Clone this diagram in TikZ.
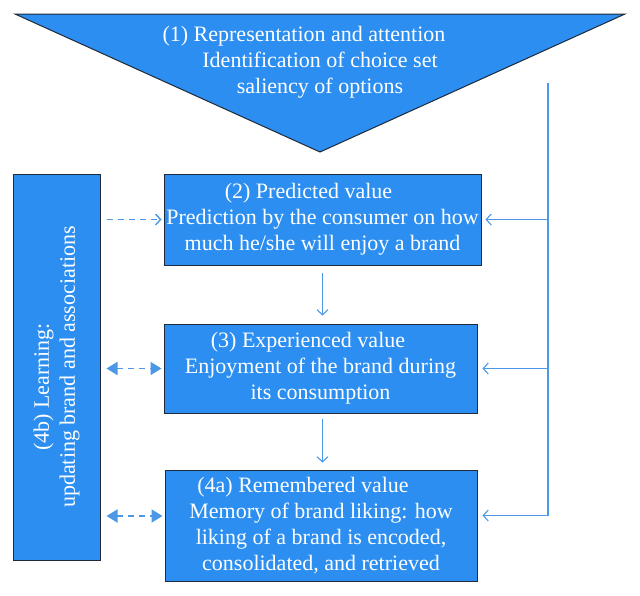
\documentclass[tikz,border=0pt]{standalone}
\usepackage{fontspec}
\setmainfont{Liberation Serif}
\usetikzlibrary{arrows.meta}
\definecolor{boxblue}{HTML}{2B8EF0}
\definecolor{edgenavy}{HTML}{1F2A3A}
\definecolor{linkblue}{HTML}{4A98E6}
\tikzset{stage/.style={draw=edgenavy,line width=1pt,fill=boxblue,text=white,align=center,inner sep=2pt,font=\fontsize{22}{26}\selectfont},
         label/.style={text=white,align=center,inner sep=0pt,font=\fontsize{22}{26}\selectfont},
         link/.style={draw=linkblue,line width=1.1pt,-{Straight Barb[length=5pt,width=11pt]}},
         feedback/.style={draw=linkblue,line width=1.4pt,dash pattern=on 6pt off 5pt,shorten <=6pt,shorten >=2pt},
         twoway/.style={feedback,line width=1.8pt,{Triangle[length=11pt,width=13pt]}-{Triangle[length=11pt,width=13pt]}}}

\begin{document}
\begin{tikzpicture}[x=1pt,y=-1pt]
        \useasboundingbox (0,0) rectangle (640,595);
        \draw[draw=edgenavy,line width=1pt,fill=boxblue] (15,14) -- (625,14) -- (320,152) -- cycle;
        \node[label] (attn) at (320,62) {(1) Representation and attention\hspace*{32pt}\\Identification of choice set\\saliency of options};
        \node[stage,minimum width=317pt,minimum height=91pt] (pred) at (322.5,219.5) {(2) Predicted value\hspace*{28pt}\\Prediction by the consumer on how\\much he/she will enjoy a brand};
        \node[stage,minimum width=313pt,minimum height=89pt] (exper) at (320.5,368.5) {(3) Experienced value\hspace*{25pt}\\Enjoyment of the brand during\\its consumption};
        \node[stage,minimum width=312pt,minimum height=111pt] (remem) at (321,525.5) {(4a) Remembered value\hspace*{36pt}\\Memory of brand liking: how\\liking of a brand is encoded,\\consolidated, and retrieved};
        \node[stage,minimum width=87pt,minimum height=386pt] (learn) at (56.5,367) {};
        \node[label,rotate=90] (learntxt) at (learn.center) {(4b) Learning:\hspace*{40pt}\\updating brand and associations};
        \coordinate (feed) at (548,83);
        \coordinate (remin) at ([yshift=9.5pt]remem.west);
        \coordinate (remright) at ([yshift=10pt]remem.east);
        \draw[link,shorten <=7pt,shorten >=8pt] (pred.south) -- (pred.south |- exper.north);
        \draw[link,shorten <=5pt,shorten >=7pt] (exper.south -| pred.south) -- (pred.south |- remem.north);
        \draw[link,shorten >=5pt] (feed) |- (remright);
        \draw[link,shorten >=4pt] (feed |- pred.east) -- (pred.east);
        \draw[link,shorten >=5pt] (feed |- exper.east) -- (exper.east);
        \draw[feedback,-{Straight Barb[length=5pt,width=11pt]}] (learn.east |- pred.west) -- (pred.west);
        \draw[twoway] (learn.east |- exper.west) -- (exper.west);
        \draw[twoway] (learn.east |- remin) -- (remin);
    \end{tikzpicture}
\end{document}
